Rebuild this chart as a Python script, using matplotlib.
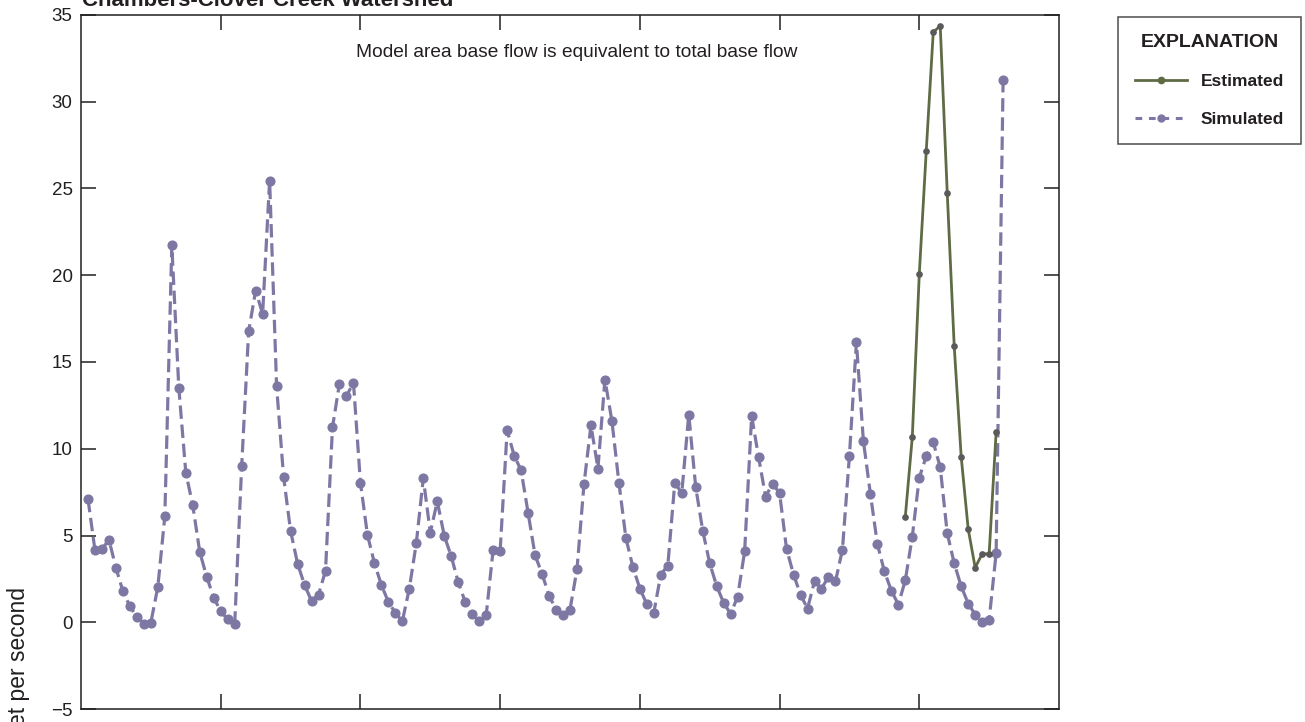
import numpy as np
import matplotlib
matplotlib.use("Agg")
import matplotlib.pyplot as plt
from matplotlib.lines import Line2D
from matplotlib import font_manager

# condensed face if there is one, else Liberation Sans with sizes fitted to width
names = {f.name for f in font_manager.fontManager.ttflist}
if 'Liberation Sans Narrow' in names:
    narrow = 'Liberation Sans Narrow'
    sz = {'note': 17.4, 'title': 19.6, 'legtitle': 17.3, 'leg': 15.2}
else:
    narrow = 'Liberation Sans'
    sz = {'note': 13.8, 'title': 16, 'legtitle': 14, 'leg': 12.5}
plt.rcParams['font.family'] = ['Liberation Sans', 'DejaVu Sans']

# simulated base flow, monthly (cubic feet per second)
simulated = [7.11, 4.15, 4.21, 4.76, 3.13, 1.79, 0.92, 0.31, -0.08, -0.02,
             2.04, 6.11, 21.73, 13.52, 8.63, 6.74, 4.05, 2.61, 1.42, 0.63,
             0.17, -0.12, 9.01, 16.77, 19.12, 17.77, 25.46, 13.60, 8.38, 5.27,
             3.38, 2.15, 1.23, 1.59, 2.96, 11.24, 13.76, 13.03, 13.81, 8.05,
             5.05, 3.41, 2.15, 1.17, 0.54, 0.06, 1.94, 4.57, 8.30, 5.17,
             6.97, 4.99, 3.80, 2.31, 1.17, 0.48, 0.06, 0.40, 4.19, 4.11,
             11.07, 9.61, 8.76, 6.30, 3.86, 2.79, 1.54, 0.73, 0.40, 0.73,
             3.05, 7.95, 11.35, 8.86, 13.99, 11.60, 8.05, 4.86, 3.19, 1.94,
             1.04, 0.56, 2.75, 3.27, 8.03, 7.45, 11.97, 7.78, 5.28, 3.40,
             2.09, 1.11, 0.48, 1.48, 4.09, 11.89, 9.51, 7.24, 7.99, 7.44,
             4.23, 2.75, 1.59, 0.79, 2.36, 1.94, 2.61, 2.35, 4.19, 9.60,
             16.14, 10.45, 7.40, 4.51, 2.94, 1.82, 1.02, 2.42, 4.94, 8.34,
             9.57, 10.37, 8.93, 5.13, 3.40, 2.07, 1.08, 0.44, 0.04, 0.15,
             3.98, 31.28]
sim_x = np.arange(1, len(simulated) + 1)

# estimated base flow
estimated = [6.09, 10.68, 20.07, 27.18, 34.01, 34.37, 24.76, 15.91, 9.53,
             5.38, 3.15, 3.94, 3.94, 10.95]
est_x = np.arange(118, 118 + len(estimated))

purple = '#7d78a3'
green = '#5e6b45'
ink = '#231f20'

fig = plt.figure(figsize=(13.05, 7.22), dpi=100)
ax = fig.add_axes([81 / 1305, 1 - 709 / 722, 978 / 1305, 694 / 722])

ax.plot(sim_x, simulated, color=purple, lw=2.3, dashes=(4.2, 1.8),
        marker='o', ms=6.3, mfc=purple, mec=purple)
ax.plot(est_x, estimated, color=green, lw=2.0,
        marker='o', ms=3.8, mfc='#5a5a5a', mec='#5a5a5a')

ax.set_xlim(0, 140)
ax.set_ylim(-5, 35)
ax.set_xticks(np.arange(20, 140, 20))
ax.set_xticklabels([])
ax.set_yticks(np.arange(-5, 36, 5))
ax.set_yticklabels(['\u22125' if v < 0 else str(v) for v in range(-5, 36, 5)])
ax.tick_params(direction='in', length=11, width=1.1, top=True, right=True,
               labelsize=13.5, pad=6, colors=ink)
for s in ax.spines.values():
    s.set_linewidth(1.1)
    s.set_color(ink)

ax.text(0.507, (709 - 53) / 694,
        'Model area base flow is equivalent to total base flow',
        transform=ax.transAxes, ha='center', va='center',
        fontsize=sz['note'], family=narrow, color=ink)

fig.text(82 / 1305, 1 - 6 / 722, 'Chambers-Clover Creek Watershed',
         ha='left', va='baseline', fontsize=sz['title'], fontweight='bold',
         family=narrow, color=ink)
fig.text(19 / 1305, 1 - 587 / 722, 'Base flow, in cubic feet per second',
         rotation=90, ha='center', va='top', fontsize=16.5, color=ink)

handles = [Line2D([], [], color=green, lw=2.0, marker='o', ms=4.5,
                  mfc=green, mec=green),
           Line2D([], [], color=purple, lw=2.2, dashes=(2.2, 2.2), marker='o',
                  ms=5, mfc=purple, mec=purple)]
leg = fig.legend(handles, ['Estimated', 'Simulated'], loc='upper left',
                 bbox_to_anchor=(1118 / 1305, 1 - 17 / 722),
                 title='EXPLANATION', frameon=True, fancybox=False,
                 edgecolor=ink, handlelength=2.95, borderpad=1.0,
                 labelspacing=1.3, handletextpad=0.8, borderaxespad=0,
                 prop={'size': sz['leg'], 'weight': 'bold', 'family': narrow})
leg.get_title().set_fontsize(sz['legtitle'])
leg.get_title().set_fontweight('bold')
leg.get_title().set_family(narrow)
leg.get_title().set_color(ink)
for t in leg.get_texts():
    t.set_color(ink)
leg.get_frame().set_linewidth(1.1)

fig.savefig('out.png', dpi=100)
